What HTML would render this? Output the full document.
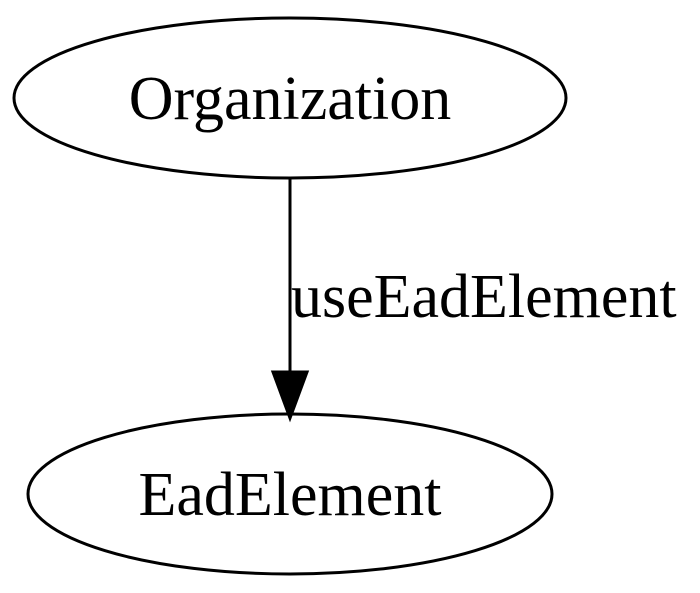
<!DOCTYPE html>
<html><head><style>html,body{margin:0;padding:0;background:#fff;width:700px;height:593px;overflow:hidden}</style></head>
<body>
<svg width="700" height="593" viewBox="0 0 700 593" xmlns="http://www.w3.org/2000/svg">
<rect width="700" height="593" fill="#fff"/>
<ellipse cx="290" cy="98" rx="276" ry="80" fill="none" stroke="#000" stroke-width="3"/>
<text x="290" y="119" font-family="Liberation Serif, serif" font-size="62" text-anchor="middle">Organization</text>
<line x1="290" y1="178" x2="290" y2="375" stroke="#000" stroke-width="3"/>
<polygon points="273,372 307,372 290,418" fill="#000" stroke="#000" stroke-width="3"/>
<text x="291" y="317" font-family="Liberation Serif, serif" font-size="62">useEadElement</text>
<ellipse cx="290" cy="494" rx="262" ry="80" fill="none" stroke="#000" stroke-width="3"/>
<text x="290" y="515" font-family="Liberation Serif, serif" font-size="62" text-anchor="middle">EadElement</text>
</svg>
</body></html>
